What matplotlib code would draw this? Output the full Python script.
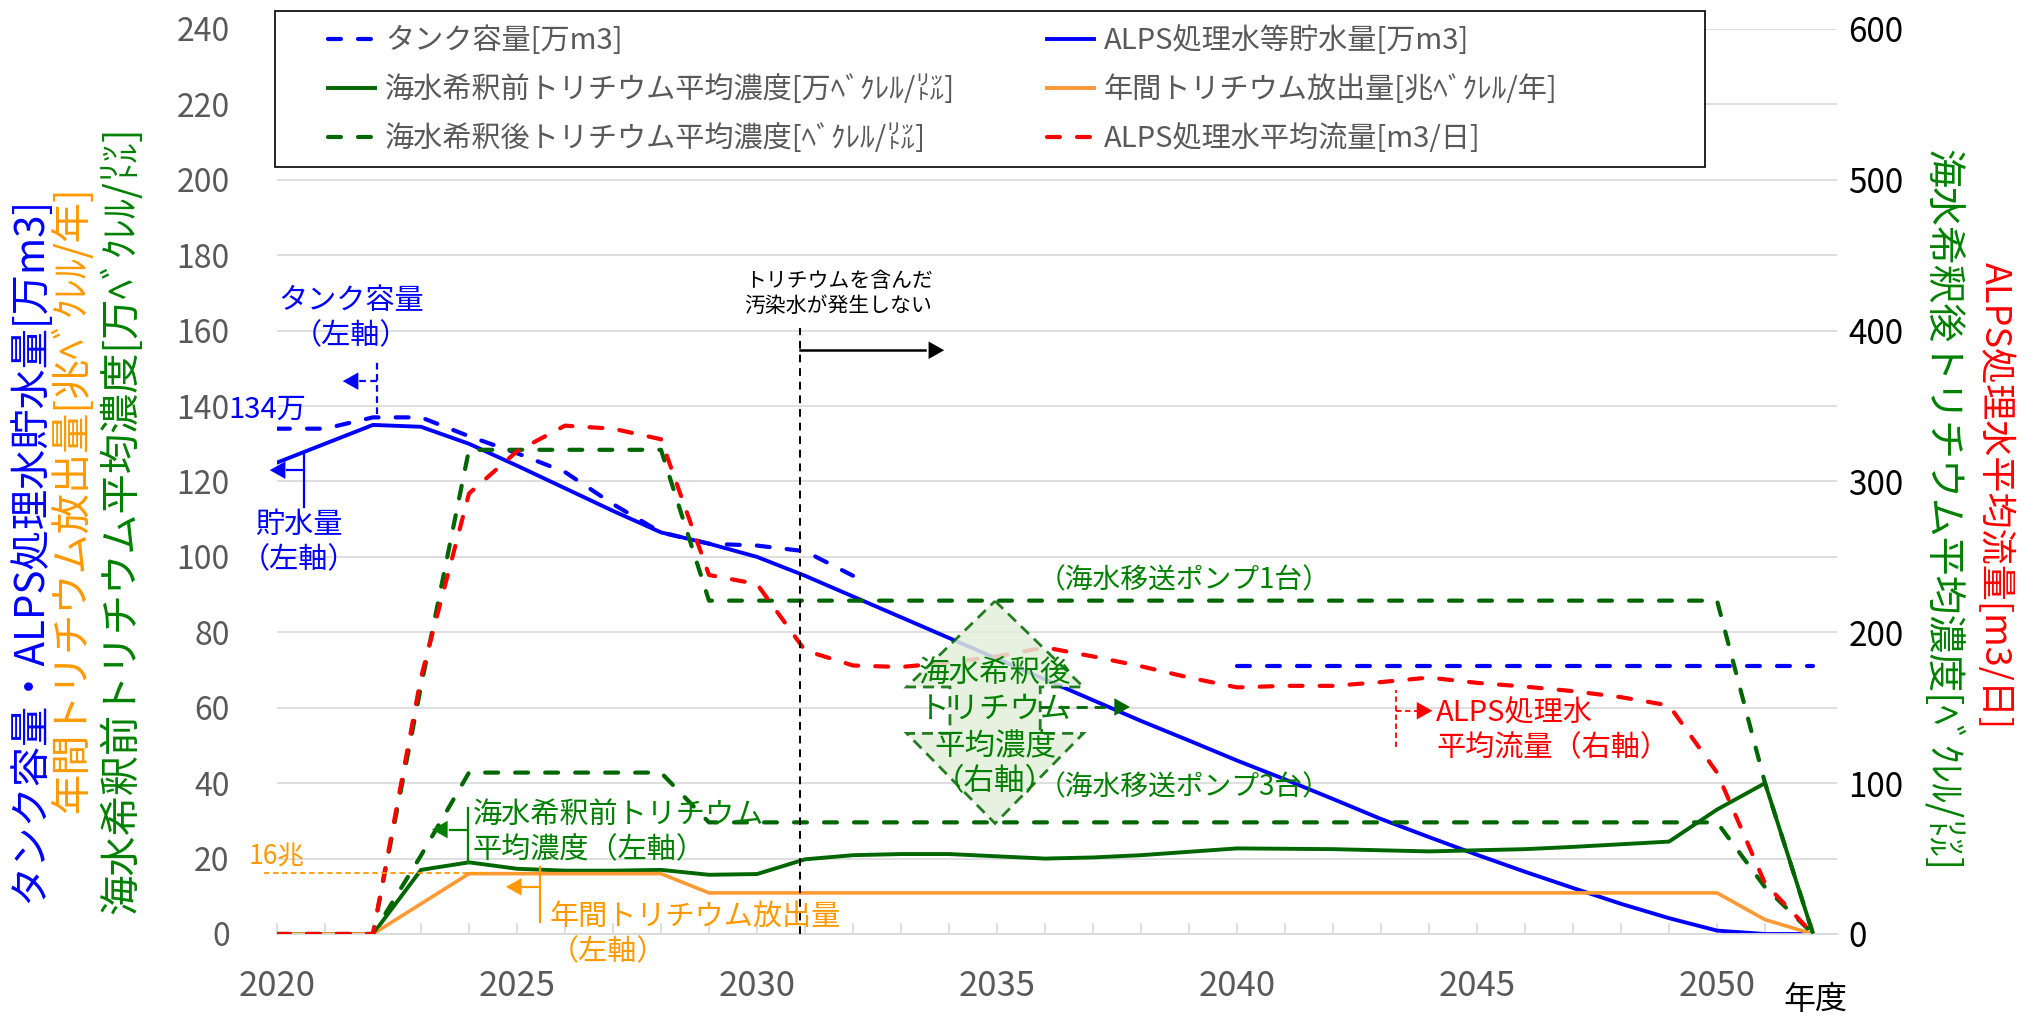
import matplotlib
matplotlib.use('Agg')
import matplotlib.pyplot as plt
from matplotlib.lines import Line2D
from matplotlib.patches import Polygon, Rectangle

plt.rcParams['font.family'] = ['Noto Sans CJK JP', 'DejaVu Sans']

# ---- データ（年度ごと）----
years = list(range(2020, 2053))
tank_years1 = list(range(2020, 2033))
tank1 = [134, 134, 137, 137, 132, 127.5, 122.5, 114, 106.5, 103.5, 103, 101.5, 95]
tank_years2 = list(range(2040, 2053))
tank2 = [71] * 13
storage = [125, 130, 135, 134.5, 130, 124.2, 118.2, 112.2, 106.5, 103.5, 100, 95, 89.5,
           84, 78.5, 73, 67.5, 62, 56.5, 51.3, 46, 41, 35.8, 30.5, 25.7, 21, 16.5,
           12.2, 8, 4.2, 0.9, 0, 0]
pre_conc = [0, 0, 0, 17, 19, 17.3, 16.8, 16.8, 17, 15.7, 15.9, 19.8, 20.9, 21.2, 21.2,
            20.6, 20, 20.3, 20.9, 21.8, 22.7, 22.6, 22.5, 22.2, 21.9, 22.2, 22.5, 23.1,
            23.8, 24.5, 33, 40, 0]
release = [0, 0, 0, 8, 16, 16, 16, 16, 16] + [10.9] * 22 + [3.8, 0]
post_conc_1 = [0, 0, 0, 164, 321, 321, 321, 321, 321] + [221] * 22 + [100, 0]
post_conc_3 = [0, 0, 0, 52, 107, 107, 107, 107, 107] + [74] * 22 + [31, 0]
flow = [0, 0, 0, 170, 292, 320, 337, 335, 328, 238, 232, 188, 178, 177, 180, 184, 190,
        184, 177.5, 170, 163.5, 164.5, 164.5, 167, 170, 166.5, 164, 161, 157, 151.5,
        107, 33.5, 0]

labels = ['タンク容量[万m3]', 'ALPS処理水等貯水量[万m3]',
          '海水希釈前トリチウム平均濃度[万ﾍﾞｸﾚﾙ/㍑]', '年間トリチウム放出量[兆ﾍﾞｸﾚﾙ/年]',
          '海水希釈後トリチウム平均濃度[ﾍﾞｸﾚﾙ/㍑]', 'ALPS処理水平均流量[m3/日]']

BLUE = '#0000ff'
GREEN = '#006600'
GREEN_T = '#008000'
ORANGE = '#ff9933'
ORANGE_T = '#ff9900'
RED = '#ff0000'
GRAY = '#595959'
GRID = '#d9d9d9'
DASH = dict(dashes=(3.1, 4.1), dash_capstyle='round')
LW_D = 3.0
LW_S = 2.8

fig = plt.figure(figsize=(20.38, 10.23), dpi=100)
ax = fig.add_axes([0.1359, 0.0870, 0.7655, 0.8847])
ax2 = ax.twinx()

# 左軸
ax.plot(tank_years1, tank1, color=BLUE, lw=LW_D, **DASH)
ax.plot(tank_years2, tank2, color=BLUE, lw=LW_D, **DASH)
ax.plot(years, storage, color=BLUE, lw=LW_S)
ax.plot(years, pre_conc, color=GREEN, lw=LW_S)
ax.plot(years, release, color=ORANGE, lw=2.6)
# 右軸
ax2.plot(years, post_conc_1, color=GREEN, lw=LW_D, **DASH)
ax2.plot(years, post_conc_3, color=GREEN, lw=LW_D, **DASH)
ax2.plot(years, flow, color=RED, lw=LW_D, **DASH)

ax.set_ylim(0, 240)
ax2.set_ylim(0, 600)
ax.set_yticks(range(0, 241, 20))
ax2.set_yticks(range(0, 601, 100))
ax.set_xlim(2020, 2052.5)
ax.set_xticks(range(2020, 2051, 5))
ax.set_xticks(range(2020, 2053), minor=True)
ax.yaxis.grid(True, color=GRID, lw=1.2)
ax.set_axisbelow(True)
for a in (ax, ax2):
    for s in ('left', 'right', 'top'):
        a.spines[s].set_visible(False)
ax2.spines['bottom'].set_visible(False)
ax.spines['bottom'].set_color(GRID)
ax.spines['bottom'].set_linewidth(1.3)
ax.tick_params(axis='x', which='both', direction='in', length=8, color=GRID, width=1.2)
ax.tick_params(axis='x', labelsize=25, labelcolor=GRAY, pad=25)
ax.tick_params(axis='y', length=0, labelsize=23, labelcolor=GRAY, pad=34)
ax2.tick_params(axis='y', length=0, labelsize=24, labelcolor='black', pad=8)

# 凡例
h = [Line2D([], [], color=BLUE, lw=LW_D, **DASH),
     Line2D([], [], color=BLUE, lw=LW_S),
     Line2D([], [], color=GREEN, lw=LW_S),
     Line2D([], [], color=ORANGE, lw=LW_S),
     Line2D([], [], color=GREEN, lw=LW_D, **DASH),
     Line2D([], [], color=RED, lw=LW_D, **DASH)]
order = [0, 2, 4, 1, 3, 5]
fig.add_artist(Rectangle((275 / 2038, 1 - 167 / 1023), 1430 / 2038, 156 / 1023,
                         transform=fig.transFigure, facecolor='white', edgecolor='black', lw=1.2))
leg = fig.legend([h[i] for i in order], [labels[i] for i in order], ncol=2,
                 loc='upper left', bbox_to_anchor=(328 / 2038, 1 - 26 / 1023),
                 frameon=False, fontsize=21, handlelength=1.6, handletextpad=0.35,
                 columnspacing=3.15, labelspacing=0.66, borderpad=0, borderaxespad=0)
for t in leg.get_texts():
    t.set_color(GRAY)

# 軸ラベル
fig.text(29 / 2038, 1 - 550 / 1023, 'タンク容量・ALPS処理水貯水量[万m3]', rotation=90,
         color=BLUE, fontsize=29, ha='center', va='center')
fig.text(72 / 2038, 1 - 500 / 1023, '年間トリチウム放出量[兆ﾍﾞｸﾚﾙ/年]', rotation=90,
         color=ORANGE_T, fontsize=29, ha='center', va='center')
fig.text(121 / 2038, 1 - 520 / 1023, '海水希釈前トリチウム平均濃度[万ﾍﾞｸﾚﾙ/㍑]', rotation=90,
         color=GREEN_T, fontsize=29, ha='center', va='center')
fig.text(1942 / 2038, 1 - 510 / 1023, '海水希釈後トリチウム平均濃度[ﾍﾞｸﾚﾙ/㍑]', rotation=270,
         color=GREEN_T, fontsize=28, ha='center', va='center')
fig.text(1996 / 2038, 1 - 495 / 1023, 'ALPS処理水平均流量[m3/日]', rotation=270,
         color=RED, fontsize=26, ha='center', va='center')
fig.text(1815 / 2038, 1 - 1000 / 1023, '年度', color='black', fontsize=23,
         ha='center', va='center')

# ---- 注記（左軸のデータ座標）----
T = ax.transData


def line(xs, ys, color, lw=1.6, ls='-'):
    ax2.plot(xs, ys, color=color, lw=lw, ls=ls, transform=T, clip_on=False, zorder=6)


def head(x, y, color, d=-1, ms=15):
    ax2.annotate('', xy=(x, y), xycoords=T, xytext=(x - d * 0.6, y), textcoords=T,
                 arrowprops=dict(arrowstyle='-|>,head_length=0.75,head_width=0.42',
                                 mutation_scale=ms, color=color, lw=0,
                                 shrinkA=0, shrinkB=0),
                 annotation_clip=False, zorder=7)


def note(x, y, s, color, size=21, ha='center', ls=1.22):
    ax2.text(x, y, s, transform=T, color=color, fontsize=size, ha=ha, va='center',
             multialignment=ha, linespacing=ls, zorder=8)


# タンク容量
note(2021.55, 163.3, 'タンク容量\n（左軸）', BLUE)
line([2022.08, 2022.08], [137.8, 151.6], BLUE, ls=(0, (3, 2)))
line([2022.08, 2021.6], [146.6, 146.6], BLUE, ls=(0, (3, 2)))
head(2021.37, 146.6, BLUE)
note(2018.98, 138.9, '134万', BLUE, ha='left')
# 貯水量
note(2020.45, 103.7, '貯水量\n（左軸）', BLUE)
line([2020.57, 2020.57], [113.3, 127.8], BLUE)
line([2020.57, 2020.2], [123, 123], BLUE)
head(2019.85, 123, BLUE)

# 2031年度
line([2030.9, 2030.9], [0, 160.6], 'black', lw=1.4, ls=(0, (4, 3)))
line([2030.9, 2033.5], [154.8, 154.8], 'black', lw=1.8)
head(2033.9, 154.8, 'black', d=1)
note(2031.7, 169.8, 'トリチウムを含んだ\n汚染水が発生しない', 'black', size=15, ls=1.2)

# 海水移送ポンプ
note(2038.9, 93.8, '（海水移送ポンプ1台）', GREEN_T, size=20)
note(2038.9, 39.0, '（海水移送ポンプ3台）', GREEN_T, size=20)

# 上下矢印
arrow_pts = [(2034.96, 88.3), (2036.8, 65.5), (2035.9, 65.5), (2035.9, 53.2),
             (2036.8, 53.2), (2034.96, 29.3), (2033.12, 53.2), (2034.02, 53.2),
             (2034.02, 65.5), (2033.12, 65.5)]
ax2.add_patch(Polygon(arrow_pts, closed=True, transform=T, facecolor='#e2efda', alpha=0.85,
                      edgecolor=GREEN, lw=2, ls=(0, (4, 2.5)), zorder=5))
note(2034.96, 54.75, '海水希釈後\nトリチウム\n平均濃度\n（右軸）', GREEN_T, size=22, ls=1.2)
line([2035.9, 2037.4], [60.2, 60.2], GREEN, lw=2, ls=(0, (4, 2.5)))
head(2037.77, 60.2, GREEN, d=1)

# 海水希釈前
note(2024.08, 26.9, '海水希釈前トリチウム\n平均濃度（左軸）', GREEN_T, ha='left')
line([2023.98, 2023.98], [18.8, 33.4], GREEN_T)
line([2023.98, 2023.6], [27.7, 27.7], GREEN_T)
head(2023.23, 27.7, GREEN_T)

# 年間放出量
note(2025.69, -0.2, '年間トリチウム放出量\n（左軸）', ORANGE_T, ha='left')
line([2025.48, 2025.48], [3.2, 17.8], ORANGE_T)
line([2025.48, 2025.1], [12.5, 12.5], ORANGE_T)
head(2024.77, 12.5, ORANGE_T)
note(2019.98, 20.4, '16兆', ORANGE_T, size=19)
line([2019.74, 2024.35], [16.2, 16.2], ORANGE_T, lw=1.3, ls=(0, (3, 2)))

# 平均流量
note(2044.15, 53.85, 'ALPS処理水\n平均流量（右軸）', RED, ha='left')
line([2043.32, 2043.32], [49.6, 64.7], RED, lw=1.3, ls=(0, (3, 2)))
line([2043.32, 2043.8], [59.2, 59.2], RED, lw=1.3, ls=(0, (3, 2)))
head(2044.07, 59.2, RED, d=1)

ax.set_xlim(2020, 2052.5)
ax2.set_ylim(0, 600)
fig.savefig('out.png', dpi=100)
